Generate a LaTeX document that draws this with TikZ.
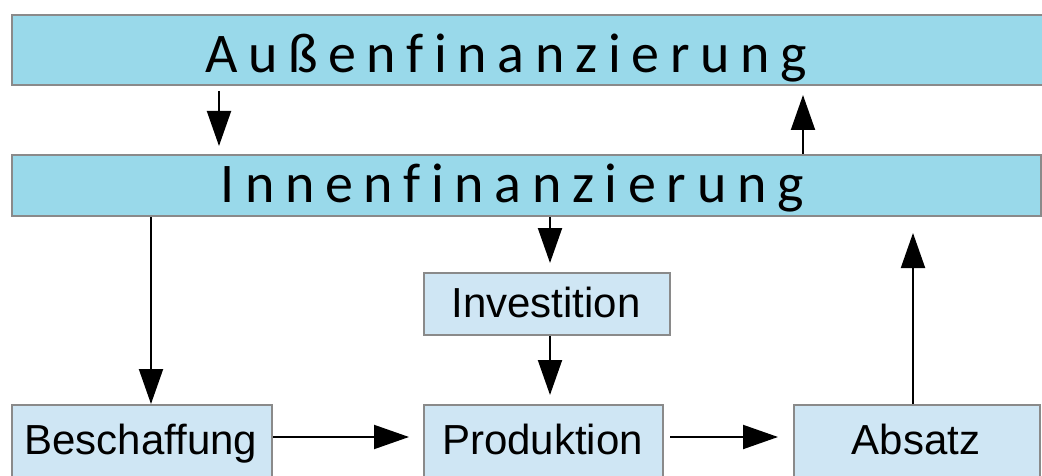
\documentclass[tikz,border=0pt]{standalone}
\usepackage{fontspec}
\setmainfont{Liberation Sans}
\newfontfamily\barfont[LetterSpace=19,Ligatures={NoCommon}]{Carlito}
\usetikzlibrary{arrows.meta}
\definecolor{barfill}{HTML}{99D9EA}
\definecolor{boxfill}{HTML}{CFE6F4}
\definecolor{edgegray}{HTML}{8A8A8A}
\begin{document}
\begin{tikzpicture}[x=1pt,y=-1pt,
  bar/.style={draw=edgegray, line width=2pt, fill=barfill, inner sep=0pt,
              anchor=north west},
  stage/.style={draw=edgegray, line width=2pt, fill=boxfill, inner sep=0pt,
                anchor=north west},
  barlabel/.style={inner sep=0pt, anchor=base, font=\barfont\fontsize{56}{56}\selectfont},
  stagelabel/.style={inner sep=0pt, anchor=base, font=\fontsize{42}{42}\selectfont},
  flow/.style={line width=2pt, -{Triangle[length=35pt,width=24pt]}}]
\useasboundingbox (0,0) rectangle (1042,476);
\clip (0,0) rectangle (1042,476);

% financing bars
\node[bar, minimum width=1040pt, minimum height=70pt] (aussen) at (11,14) {};
\node[bar, minimum width=1029pt, minimum height=61pt] (innen) at (11,154) {};
\node[barlabel] (aussenlbl) at (506,73) {Außenfinanzierung};
\node[barlabel] (innenlbl) at (512,202) {Innenfinanzierung};

% operating stages
\node[stage, minimum width=260pt, minimum height=100pt] (besch) at (11,404) {};
\node[stage, minimum width=246pt, minimum height=62pt] (invest) at (423,272) {};
\node[stage, minimum width=239pt, minimum height=100pt] (prod) at (423,404) {};
\node[stage, minimum width=246pt, minimum height=100pt] (absatz) at (793,404) {};
\node[stagelabel] (beschlbl) at (141,454) {Beschaffung};
\node[stagelabel] (investlbl) at (546,317) {Investition};
\node[stagelabel] (prodlbl) at (542.5,454) {Produktion};
\node[stagelabel] (absatzlbl) at (916,454) {Absatz};

% money and goods flows
\draw[flow, shorten <=5pt, shorten >=8pt]
  ([xshift=208pt]aussen.south west) -- ([xshift=208pt]innen.north west);
\draw[flow, shorten >=9pt]
  ([xshift=792pt]innen.north west) -- ([xshift=792pt]aussen.south west);
\draw[flow]
  ([xshift=140pt]innen.south west) -- ([xshift=140pt]besch.north west);
\draw[flow, shorten >=9pt]
  ([xshift=539pt]innen.south west) -- ([xshift=127pt]invest.north west);
\draw[flow, shorten >=9pt]
  ([xshift=127pt]invest.south west) -- ([xshift=127pt]prod.north west);
\draw[flow, shorten >=14pt]
  ([yshift=-33pt]besch.north east) -- ([yshift=-33pt]prod.north west);
\draw[flow, shorten <=6pt, shorten >=15pt]
  ([yshift=-33pt]prod.north east) -- ([yshift=-33pt]absatz.north west);
\draw[flow, shorten >=16pt]
  ([xshift=120pt]absatz.north west) -- ([xshift=902pt]innen.south west);
\end{tikzpicture}
\end{document}
